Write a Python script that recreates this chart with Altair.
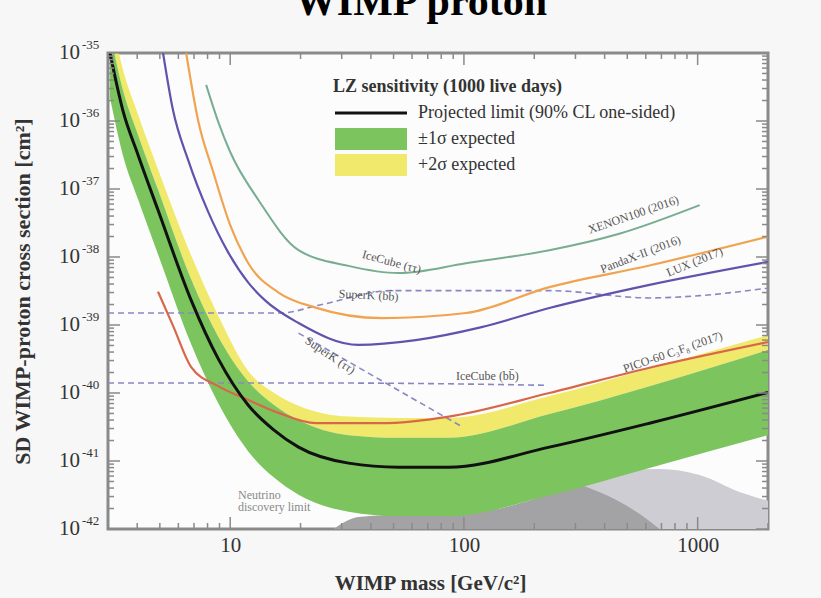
import altair as alt
import pandas as pd

# ---------------------------------------------------------------
# LZ projected SD WIMP-proton sensitivity (1000 live days)
# ---------------------------------------------------------------
lz_mass = [3.06, 3.47, 4.03, 4.91, 6.81, 8.88, 11.95, 15.3, 19.6, 32.1, 52.6, 86.1, 232, 622, 2000]
lz_limit = [1.0e-35, 1.45e-36, 3.2e-37, 4.9e-38, 2.3e-39, 3.2e-40, 6.6e-41, 2.9e-41,
            1.6e-41, 9.3e-42, 8.1e-42, 8.1e-42, 1.6e-41, 3.6e-41, 1.02e-40]
lz_minus1 = [2.2e-36, 3.2e-37, 7.1e-38, 1.1e-38, 5.2e-40, 7.1e-41, 1.38e-41, 5.8e-42,
             3.2e-42, 1.8e-42, 1.55e-42, 1.55e-42, 3.1e-42, 7.9e-42, 2.4e-41]
lz_plus1 = [2.0e-35, 2.9e-36, 6.3e-37, 9.8e-38, 4.7e-39, 6.8e-40, 1.48e-40, 6.8e-41,
            4.0e-41, 2.4e-41, 2.2e-41, 2.2e-41, 4.9e-41, 1.26e-40, 4.3e-40]
lz_plus2 = [4.0e-35, 5.8e-36, 1.26e-36, 1.95e-37, 1.05e-38, 1.38e-39, 2.1e-40, 1.02e-40,
            6.5e-41, 4.5e-41, 4.3e-41, 4.3e-41, 9.0e-41, 2.3e-40, 7.1e-40]

# Existing direct-detection limits
xenon_mass = [7.89, 8.88, 10, 13.2, 19.6, 32.1, 52.6, 102, 232, 462, 1020]
xenon_xs = [3.4e-36, 9.8e-37, 3.5e-37, 6.9e-38, 1.26e-38, 7.4e-39, 5.8e-39, 8.1e-39,
            1.26e-38, 2.2e-38, 5.8e-38]

pandax_mass = [6.48, 7.29, 8.45, 10, 11.95, 16.1, 23.2, 44.5, 102, 232, 622, 2000]
pandax_xs = [1.0e-35, 1.02e-36, 1.8e-37, 2.95e-38, 8.1e-39, 3.0e-39, 1.8e-39, 1.26e-39,
             1.5e-39, 3.6e-39, 7.5e-39, 2.0e-38]

lux_mass = [5.16, 5.69, 6.60, 8.05, 9.80, 11.95, 14.1, 19.6, 35.4, 62.2, 119, 232, 622, 2000]
lux_xs = [1.0e-35, 1.45e-36, 2.7e-37, 4.6e-38, 1.17e-38, 4.2e-39, 2.3e-39, 1.07e-39,
          5.1e-40, 6.0e-40, 9.3e-40, 1.78e-39, 3.9e-39, 8.5e-39]

pico_mass = [4.91, 5.69, 6.81, 8.88, 11.95, 16.1, 23.2, 44.5, 86.3, 232, 622, 2000]
pico_xs = [3.1e-39, 9.8e-40, 2.4e-40, 1.26e-40, 7.9e-41, 5.1e-41, 3.6e-41, 3.6e-41,
           4.5e-41, 1.0e-40, 2.35e-40, 5.6e-40]

# Indirect-detection limits (dashed)
superk_mass = [3.0, 16.5, 23.9, 49.1, 232, 622, 1020, 2000]
superk_xs = [1.5e-39, 1.5e-39, 1.95e-39, 3.2e-39, 3.2e-39, 2.5e-39, 2.7e-39, 3.5e-39]
icecube_mass = [3.0, 30, 220]
icecube_xs = [1.4e-40, 1.4e-40, 1.3e-40]
icww_mass = [19.6, 98]
icww_xs = [7.6e-40, 3.2e-41]

# Neutrino background regions
nu_dark_mass = [27.7, 35.4, 64.1, 116, 209, 296, 379, 565, 687]
nu_dark_xs = [1.0e-42, 1.5e-42, 1.66e-42, 1.8e-42, 2.9e-42, 4.5e-42, 3.5e-42, 1.66e-42, 1.0e-42]
nu_light_mass = [243, 255, 462, 687, 1020, 1510, 2000]
nu_light_xs = [1.0e-42, 6.2e-42, 7.4e-42, 7.6e-42, 6.2e-42, 3.5e-42, 2.6e-42]

# Axis ticks and labels
x_major = [10, 100, 1000]
x_minor = [3, 4, 5, 6, 7, 8, 9, 20, 30, 40, 50, 60, 70, 80, 90,
           200, 300, 400, 500, 600, 700, 800, 900, 2000]
y_decades = [1e-42, 1e-41, 1e-40, 1e-39, 1e-38, 1e-37, 1e-36, 1e-35]
y_exponent_text = ["-42", "-41", "-40", "-39", "-38", "-37", "-36", "-35"]

# Curve labels (angles in degrees, clockwise)
curve_labels = ["XENON100 (2016)", "PandaX-II (2016)", "LUX (2017)", "PICO-60 C₃F₈ (2017)",
                "IceCube (ττ)", "SuperK (bb̄)", "SuperK (ττ)", "IceCube (bb̄)"]
curve_label_mass = [531, 569, 970, 782, 49.1, 39.1, 26.8, 126]
curve_label_xs = [4.2e-38, 1.1e-38, 8.5e-39, 4.0e-40, 8.5e-39, 2.75e-39, 3.6e-40, 1.78e-40]
curve_label_angle = [341, 339, 338, 341, 15, 3, 34, 0]

W, H = 660, 476
FONT = "Liberation Serif"
TXT = "#333333"

xscale = alt.Scale(type="log", domain=[3, 2000], nice=False)
yscale = alt.Scale(type="log", domain=[1e-42, 1e-35], nice=False)

x_axis = alt.Axis(values=x_major, format="d", labelFont=FONT, labelFontSize=21,
                  labelColor=TXT, labelPadding=5, ticks=False, domain=False, grid=False,
                  title="WIMP mass [GeV/c²]", titleFont=FONT, titleFontSize=21,
                  titleFontWeight="bold", titleColor=TXT, titleX=322, titleY=54,
                  titleBaseline="middle", titleAlign="center")
y_axis = alt.Axis(values=y_decades, labels=False, ticks=False, domain=False, grid=False,
                  title="SD WIMP-proton cross section [cm²]", titleFont=FONT,
                  titleFontSize=22, titleFontWeight="bold", titleColor=TXT,
                  titleX=-86, titleY=H / 2, titleAngle=270, titleBaseline="middle",
                  titleAlign="center")


def X(field="m:Q"):
    return alt.X(field, scale=xscale, axis=x_axis)


def Y(field="s:Q"):
    return alt.Y(field, scale=yscale, axis=y_axis)


def curve(mass, xs, color, width=2.0, dash=None):
    kw = dict(color=color, strokeWidth=width, clip=True, interpolate="monotone")
    if dash:
        kw["strokeDash"] = dash
    return alt.Chart(pd.DataFrame({"m": mass, "s": xs})).mark_line(**kw).encode(x=X(), y=Y())


def region(mass, lo, hi, color):
    return alt.Chart(pd.DataFrame({"m": mass, "s": lo, "hi": hi})).mark_area(
        color=color, clip=True, interpolate="monotone"
    ).encode(x=X(), y=Y(), y2="hi:Q")


# Neutrino background
nu_light = region(nu_light_mass, [1e-42] * len(nu_light_mass), nu_light_xs, "#cdcdd3")
nu_dark = region(nu_dark_mass, [1e-42] * len(nu_dark_mass), nu_dark_xs, "#a3a3a5")
nu_text = alt.Chart(pd.DataFrame({"m": [10.8, 10.8], "s": [3.2e-42, 2.1e-42],
                                  "t": ["Neutrino", "discovery limit"]})).mark_text(
    align="left", baseline="middle", font=FONT, fontSize=12, color="#8a8a8a"
).encode(x=X(), y=Y(), text="t:N")

# LZ bands and projected limit
band2 = region(lz_mass, lz_plus1, lz_plus2, "#f1e96c")
band1 = region(lz_mass, lz_minus1, lz_plus1, "#7cc45e")
lz_line = curve(lz_mass, lz_limit, "#111111", 3.0)

dash_col = "#8a86c2"
lines = [
    curve(superk_mass, superk_xs, dash_col, 1.6, [6, 4]),
    curve(icecube_mass, icecube_xs, dash_col, 1.6, [6, 4]),
    curve(icww_mass, icww_xs, dash_col, 1.6, [6, 4]),
    curve(xenon_mass, xenon_xs, "#78ad92", 2.0),
    curve(pandax_mass, pandax_xs, "#f0a452", 2.2),
    curve(lux_mass, lux_xs, "#6153ad", 2.2),
    curve(pico_mass, pico_xs, "#d8674a", 2.2),
]

labels = alt.Chart(pd.DataFrame({"m": curve_label_mass, "s": curve_label_xs,
                                 "t": curve_labels, "a": curve_label_angle})).mark_text(
    font=FONT, fontSize=12, color="#555", align="center", baseline="middle"
).encode(x=X(), y=Y(), text="t:N", angle=alt.Angle("a:Q", scale=None))

# Decade labels on the y axis: "10" with a raised exponent
ylab = pd.DataFrame({"s": y_decades, "base": ["10"] * len(y_decades), "e": y_exponent_text})
ylab_base = alt.Chart(ylab).mark_text(
    font=FONT, fontSize=21, color=TXT, align="right", baseline="middle"
).encode(x=alt.value(-28), y=Y(), text="base:N")
ylab_exp = alt.Chart(ylab).mark_text(
    font=FONT, fontSize=13, color=TXT, align="left", baseline="middle", dy=-8
).encode(x=alt.value(-26), y=Y(), text="e:N")

# Inward ticks on all four sides
xt = pd.DataFrame({"m": x_major + x_minor,
                   "len": [12] * len(x_major) + [6] * len(x_minor)})
y_minor = [k * d for d in y_decades[:-1] for k in range(2, 10)]
yt = pd.DataFrame({"s": y_decades + y_minor,
                   "len": [12] * len(y_decades) + [6] * len(y_minor)})
tick_col = "#8a8a8a"
ticks = []
for data, ch, side in [(xt, "x", "bottom"), (xt, "x", "top"), (yt, "y", "left"), (yt, "y", "right")]:
    for ln in (12, 6):
        base = alt.Chart(data[data["len"] == ln]).mark_rule(color=tick_col, strokeWidth=1.5)
        if ch == "x":
            enc = dict(x=X())
            if side == "bottom":
                enc.update(y=alt.value(H), y2=alt.value(H - ln))
            else:
                enc.update(y=alt.value(0), y2=alt.value(ln))
        else:
            enc = dict(y=Y())
            if side == "left":
                enc.update(x=alt.value(0), x2=alt.value(ln))
            else:
                enc.update(x=alt.value(W), x2=alt.value(W - ln))
        ticks.append(base.encode(**enc))

# Legend block
legend_head = alt.Chart(pd.DataFrame({"t": ["LZ sensitivity (1000 live days)"]})).mark_text(
    font=FONT, fontSize=18, fontWeight="bold", align="left", baseline="middle", color=TXT
).encode(x=alt.value(225), y=alt.value(34), text="t:N")
legend_text = alt.Chart(pd.DataFrame({
    "t": ["Projected limit (90% CL one-sided)", "±1σ expected", "+2σ expected"],
    "py": [60, 86, 112]})).mark_text(
    font=FONT, fontSize=18, align="left", baseline="middle", color=TXT
).encode(x=alt.value(310), y=alt.Y("py:Q", scale=None), text="t:N")
legend_line = alt.Chart(pd.DataFrame({"a": [1]})).mark_rule(
    color="#111", strokeWidth=3).encode(x=alt.value(227), x2=alt.value(299), y=alt.value(60))
legend_boxes = alt.Chart(pd.DataFrame({
    "x0": [227, 227], "x1": [299, 299], "y0": [75, 101], "y1": [97, 123],
    "c": ["#7cc45e", "#f1e96c"]})).mark_rect().encode(
    x=alt.X("x0:Q", scale=None), x2="x1:Q", y=alt.Y("y0:Q", scale=None), y2="y1:Q",
    color=alt.Color("c:N", scale=None))

title = alt.Chart(pd.DataFrame({"t": ["WIMP proton"]})).mark_text(
    font=FONT, fontSize=42, fontWeight="bold", color="#000", align="center",
    baseline="alphabetic"
).encode(x=alt.value(313), y=alt.value(-38), text="t:N")

chart = alt.layer(
    lz_line, nu_light, nu_dark, nu_text, band2, band1, *lines, lz_line, labels, *ticks,
    ylab_base, ylab_exp, legend_boxes, legend_line, legend_head, legend_text, title
).properties(
    width=W, height=H,
    autosize=alt.AutoSizeParams(type="none"),
    padding={"left": 108, "top": 53, "right": 53, "bottom": 69},
    background="#f7f7f7",
).configure_view(
    stroke="#8a8a8a", strokeWidth=3, fill="#fcfcfc"
)

chart.save("out.html", embed_options={"renderer": "svg", "actions": False})
